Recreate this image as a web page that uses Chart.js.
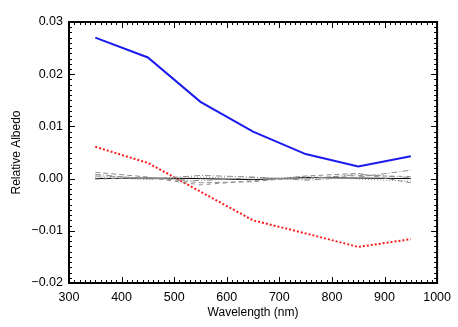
<!DOCTYPE html>
<html>
<head>
<meta charset="utf-8">
<script src="https://cdn.jsdelivr.net/npm/chart.js@4.4.1/dist/chart.umd.min.js"></script>
<style>
  html, body { margin: 0; padding: 0; background: #fff; }
  #wrap { width: 458px; height: 327px; }
</style>
</head>
<body>
<div id="wrap"><canvas id="chartCanvas" width="458" height="327"></canvas></div>
<script>
const wavelengths = [350, 450, 550, 650, 750, 850, 950];
const blueAlbedo = [0.0270, 0.0232, 0.0147, 0.0090, 0.0047, 0.0023, 0.0043];
const redAlbedo = [0.0061, 0.0030, -0.0025, -0.0080, -0.0105, -0.0131, -0.0116];
const blackAlbedo = [0.0000, 0.0001, 0.0000, -0.0002, 0.0002, 0.0001, 0.0000];
const grayA = [0.0012, 0.0003, -0.0008, -0.0006, 0.0005, 0.0010, -0.0008];
const grayB = [0.0008, -0.0001, 0.0006, 0.0003, -0.0003, 0.0003, 0.0016];
const grayC = [-0.0001, 0.0002, -0.0012, -0.0004, 0.0001, 0.0006, 0.0004];
const grayD = [0.0003, -0.0002, 0.0003, -0.0001, 0.0004, -0.0001, -0.0005];
const grayE = [0.0005, 0.0001, -0.0004, 0.0002, -0.0001, 0.0008, 0.0002];
const xTicks = [300, 400, 500, 600, 700, 800, 900, 1000];
const yTicks = [-0.02, -0.01, 0.00, 0.01, 0.02, 0.03];

const fontFamily = "'Liberation Sans', Arial, sans-serif";

function pts(values) {
    return wavelengths.map((w, i) => ({ x: w, y: values[i] }));
}

function grayLine(values, dash) {
    return {
        data: pts(values),
        borderColor: '#8c8c8c',
        borderWidth: 1,
        borderDash: dash,
        pointRadius: 0,
        tension: 0
    };
}

// IDL style frame with inward major/minor ticks on all four sides
const frameTicks = {
    id: 'frameTicks',
    afterDraw(chart) {
        const ctx = chart.ctx;
        const area = chart.chartArea;
        const xs = chart.scales.x;
        const ys = chart.scales.y;
        ctx.save();
        ctx.strokeStyle = '#000';
        ctx.lineWidth = 1;
        ctx.beginPath();
        for (let v = 300; v <= 1000; v += 10) {
            const px = Math.round(xs.getPixelForValue(v)) + 0.5;
            const len = v % 100 === 0 ? 6 : 3;
            ctx.moveTo(px, area.bottom);
            ctx.lineTo(px, area.bottom - len);
            ctx.moveTo(px, area.top);
            ctx.lineTo(px, area.top + len);
        }
        for (let k = -20; k <= 30; k++) {
            const py = Math.round(ys.getPixelForValue(k / 1000)) + 0.5;
            const len = k % 10 === 0 ? 6 : 3;
            ctx.moveTo(area.left, py);
            ctx.lineTo(area.left + len, py);
            ctx.moveTo(area.right, py);
            ctx.lineTo(area.right - len, py);
        }
        ctx.stroke();
        ctx.lineWidth = 2;
        ctx.strokeRect(area.left, area.top, area.right - area.left, area.bottom - area.top);
        ctx.restore();
    }
};

new Chart(document.getElementById('chartCanvas'), {
    type: 'line',
    data: {
        datasets: [
            grayLine(grayA, [5, 3]),
            grayLine(grayB, [6, 2, 1, 2]),
            grayLine(grayC, [4, 4]),
            grayLine(grayD, [1, 2]),
            grayLine(grayE, [6, 2, 1, 2, 1, 2]),
            {
                data: pts(blackAlbedo),
                borderColor: '#000',
                borderWidth: 1,
                pointRadius: 0
            },
            {
                data: pts(redAlbedo),
                borderColor: '#ff1a1a',
                borderWidth: 2,
                borderDash: [2, 2],
                pointRadius: 0
            },
            {
                data: pts(blueAlbedo),
                borderColor: '#1a1aee',
                borderWidth: 2,
                pointRadius: 0
            }
        ]
    },
    options: {
        responsive: false,
        animation: false,
        layout: { padding: { left: 0, top: 22, right: 20, bottom: 0 } },
        plugins: { legend: { display: false }, tooltip: { enabled: false } },
        scales: {
            x: {
                type: 'linear',
                min: 300,
                max: 1000,
                afterFit(scale) { scale.height = 44; },
                afterBuildTicks(scale) { scale.ticks = xTicks.map(v => ({ value: v })); },
                grid: { display: false, drawTicks: false },
                border: { display: false },
                ticks: {
                    padding: 7,
                    color: '#000',
                    maxRotation: 0,
                    font: { family: fontFamily, size: 12.5 },
                    callback: v => String(v)
                },
                title: {
                    display: true,
                    text: 'Wavelength (nm)',
                    color: '#000',
                    font: { family: fontFamily, size: 12 },
                    padding: { top: 0, bottom: 7 }
                }
            },
            y: {
                type: 'linear',
                min: -0.02,
                max: 0.03,
                afterFit(scale) { scale.width = 69; },
                afterBuildTicks(scale) { scale.ticks = yTicks.map(v => ({ value: v })); },
                grid: { display: false, drawTicks: false },
                border: { display: false },
                ticks: {
                    padding: 6,
                    color: '#000',
                    font: { family: fontFamily, size: 12.5 },
                    callback: v => Math.abs(v) < 1e-9 ? '0.00' : v.toFixed(2).replace('-', '\u2212')
                },
                title: {
                    display: true,
                    text: 'Relative Albedo',
                    color: '#000',
                    font: { family: fontFamily, size: 12 },
                    padding: { top: 9, bottom: 0 }
                }
            }
        }
    },
    plugins: [frameTicks]
});
</script>
</body>
</html>
